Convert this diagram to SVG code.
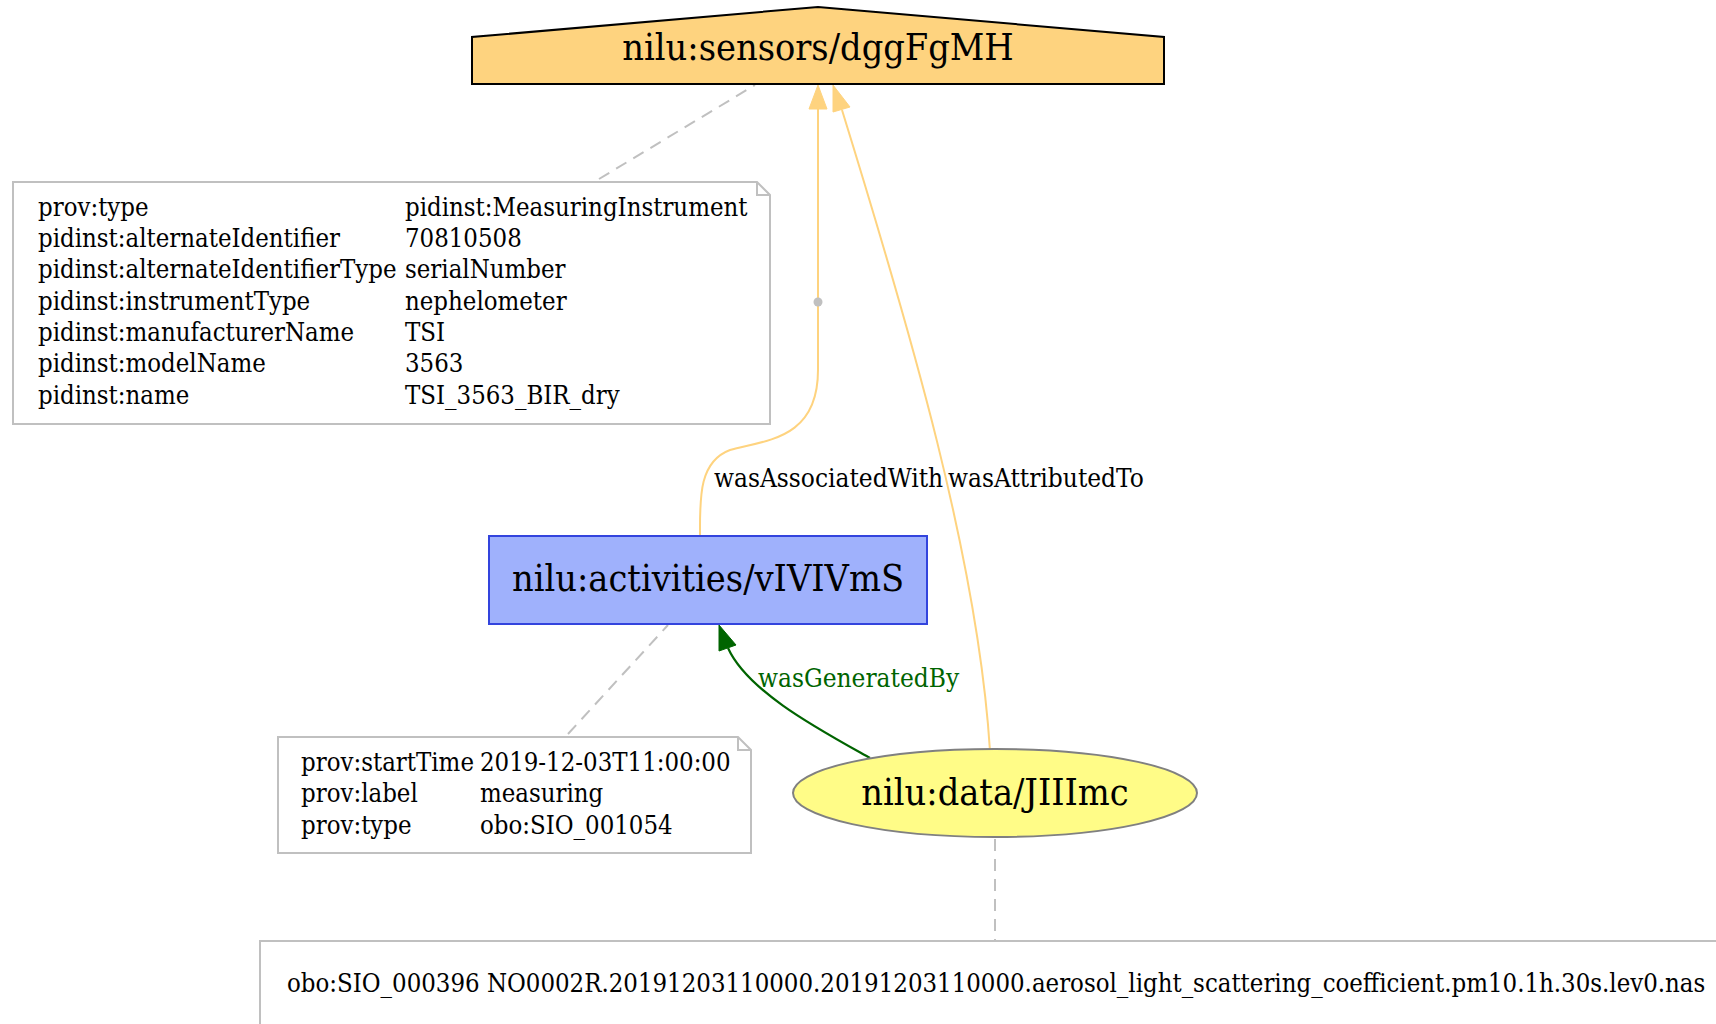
<svg xmlns="http://www.w3.org/2000/svg" width="1716" height="1024" viewBox="0 0 1716 1024">
<defs>
<style>
.t{font-family:"DejaVu Serif Condensed","DejaVu Serif",serif;font-stretch:condensed;fill:#000}
.node{font-size:37.5px}
.note{font-size:25.5px}
.lbl{font-size:26px}
.notebox{fill:#fff;stroke:#c0c0c0;stroke-width:2}
.ann{fill:none;stroke:#c0c0c0;stroke-width:2;stroke-dasharray:12,8}
.yel{fill:none;stroke:#FED37F;stroke-width:2}
.grn{fill:none;stroke:#006400;stroke-width:2.2}
</style>
</defs>
<rect width="1716" height="1024" fill="#fff"/>
<g id="connectors">
<path class="ann" d="M599,179 L755,85"/>
<path class="ann" d="M568,734 L668,625"/>
<path class="ann" d="M995,839 L995,941"/>
<path class="yel" d="M700,536 C700,500 698,462 730,450 C765,440 818,440 818,370 L818,108"/>
<polygon fill="#FED37F" stroke="#FED37F" points="818,85 809,109 827,109"/>
<circle cx="818" cy="302" r="4.5" fill="#c0c0c0"/>
<path class="yel" d="M990,751 C978,560 910,330 842,110"/>
<polygon fill="#FED37F" stroke="#FED37F" points="833,85 833,112 850,107"/>
<path class="grn" d="M870,758 C820,730 748,692 728,648"/>
<polygon fill="#006400" stroke="#006400" points="719,625 719,651 736,645"/>
<text class="t lbl" x="714" y="487">wasAssociatedWith</text>
<text class="t lbl" x="948" y="487">wasAttributedTo</text>
<text class="t lbl" x="758" y="687" style="fill:#006400">wasGeneratedBy</text>
</g>
<g id="sensor">
<polygon points="472,84 1164,84 1164,37 818,7 472,37" fill="#FED37F" stroke="#000" stroke-width="2"/>
<text class="t node" x="818" y="60" text-anchor="middle">nilu:sensors/dggFgMH</text>
</g>
<g id="note-sensor">
<path class="notebox" d="M13,182 L757,182 L770,195 L770,424 L13,424 Z M757,182 L757,195 L770,195"/>
<text class="t note" x="38" y="216">prov:type</text>
<text class="t note" x="405" y="216">pidinst:MeasuringInstrument</text>
<text class="t note" x="38" y="247">pidinst:alternateIdentifier</text>
<text class="t note" x="405" y="247">70810508</text>
<text class="t note" x="38" y="278">pidinst:alternateIdentifierType</text>
<text class="t note" x="405" y="278">serialNumber</text>
<text class="t note" x="38" y="310">pidinst:instrumentType</text>
<text class="t note" x="405" y="310">nephelometer</text>
<text class="t note" x="38" y="341">pidinst:manufacturerName</text>
<text class="t note" x="405" y="341">TSI</text>
<text class="t note" x="38" y="372">pidinst:modelName</text>
<text class="t note" x="405" y="372">3563</text>
<text class="t note" x="38" y="404">pidinst:name</text>
<text class="t note" x="405" y="404">TSI_3563_BIR_dry</text>
</g>
<g id="activity">
<rect x="489" y="536" width="438" height="88" fill="#9FB1FC" stroke="#3344dd" stroke-width="2"/>
<text class="t node" x="708" y="591" text-anchor="middle">nilu:activities/vIVIVmS</text>
</g>
<g id="note-activity">
<path class="notebox" d="M278,737 L738,737 L751,750 L751,853 L278,853 Z M738,737 L738,750 L751,750"/>
<text class="t note" x="301" y="771">prov:startTime</text>
<text class="t note" x="480" y="771">2019-12-03T11:00:00</text>
<text class="t note" x="301" y="802">prov:label</text>
<text class="t note" x="480" y="802">measuring</text>
<text class="t note" x="301" y="834">prov:type</text>
<text class="t note" x="480" y="834">obo:SIO_001054</text>
</g>
<g id="entity">
<ellipse cx="995" cy="793" rx="202" ry="44" fill="#FFFC87" stroke="#808080" stroke-width="2"/>
<text class="t node" x="995" y="805" text-anchor="middle">nilu:data/JIIImc</text>
</g>
<g id="note-entity">
<path class="notebox" d="M260,941 L1717,941 L1730,954 L1730,1040 L260,1040 Z"/>
<text class="t note" x="287" y="992">obo:SIO_000396 NO0002R.20191203110000.20191203110000.aerosol_light_scattering_coefficient.pm10.1h.30s.lev0.nas</text>
</g>
</svg>
